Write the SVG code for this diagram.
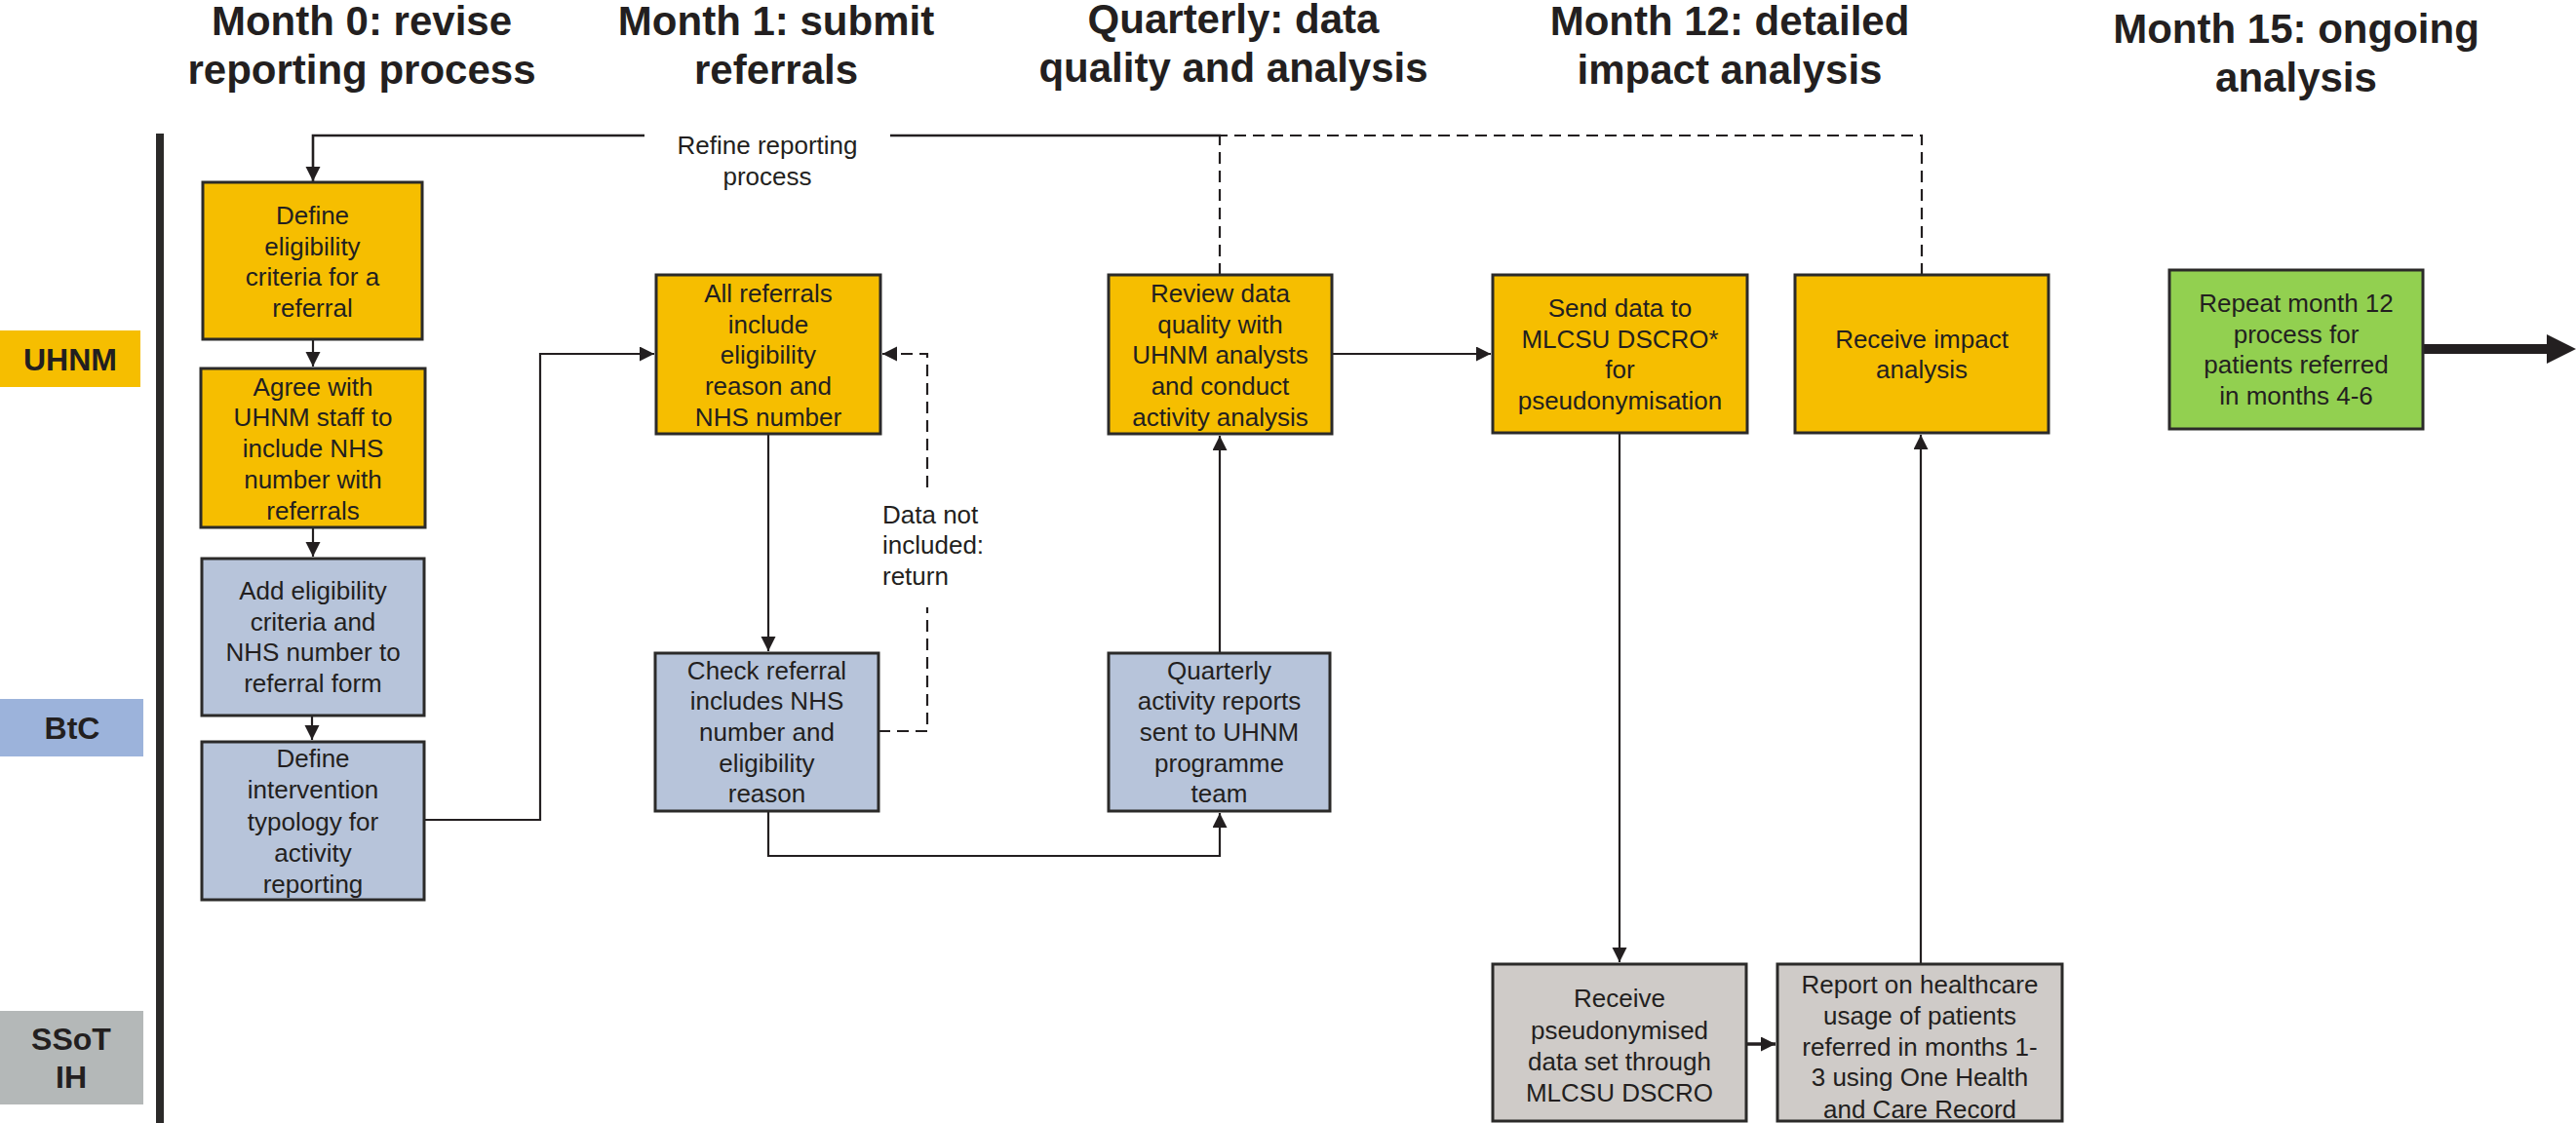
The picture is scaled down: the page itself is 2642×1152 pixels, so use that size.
<svg xmlns="http://www.w3.org/2000/svg" width="2642" height="1152" viewBox="0 0 2642 1152">
<defs>
<style>
.title{font-family:"Liberation Sans",Arial,sans-serif;font-weight:bold;font-size:42px;fill:#231F20;text-anchor:middle}
.lane{font-family:"Liberation Sans",Arial,sans-serif;font-weight:bold;font-size:32px;fill:#231F20;text-anchor:middle}
.t{font-family:"Liberation Sans",Arial,sans-serif;font-size:26px;fill:#231F20;text-anchor:middle}
.lbl{font-family:"Liberation Sans",Arial,sans-serif;font-size:26px;fill:#231F20}
.box{stroke:#2B2A29;stroke-width:3}
.y{fill:#F6BE00}
.b{fill:#B7C4DA}
.g{fill:#CFCBC8}
.gr{fill:#92D050}
.c{fill:none;stroke:#231F20;stroke-width:2.2}
.d{stroke-dasharray:12 7}
</style>
<marker id="ah" markerUnits="userSpaceOnUse" markerWidth="16" markerHeight="16" refX="15" refY="7.5" orient="auto">
<path d="M0,0 L15,7.5 L0,15 z" fill="#231F20"/>
</marker>
</defs>
<rect width="2642" height="1152" fill="#FFFFFF"/>

<g id="titles">
<text class="title" x="371" y="36">Month 0: revise</text>
<text class="title" x="371" y="86">reporting process</text>
<text class="title" x="796" y="36">Month 1: submit</text>
<text class="title" x="796" y="86">referrals</text>
<text class="title" x="1265" y="34">Quarterly: data</text>
<text class="title" x="1265" y="84">quality and analysis</text>
<text class="title" x="1774" y="36">Month 12: detailed</text>
<text class="title" x="1774" y="86">impact analysis</text>
<text class="title" x="2355" y="44">Month 15: ongoing</text>
<text class="title" x="2355" y="94">analysis</text>
</g>

<g id="lanes">
<rect x="0" y="339" width="144" height="58" fill="#F6BE00"/>
<text class="lane" x="72" y="380">UHNM</text>
<rect x="0" y="717" width="147" height="59" fill="#9CB3DB"/>
<text class="lane" x="74" y="758">BtC</text>
<rect x="0" y="1037" width="147" height="96" fill="#B4B8B8"/>
<text class="lane" x="73" y="1077">SSoT</text>
<text class="lane" x="73" y="1116">IH</text>
<rect x="160" y="137" width="8" height="1015" fill="#2B2A29"/>
</g>

<g id="connectors">
<path class="c" d="M321,348 V376" marker-end="url(#ah)"/>
<path class="c" d="M321,541 V571" marker-end="url(#ah)"/>
<path class="c" d="M320,734 V759" marker-end="url(#ah)"/>
<path class="c" d="M435,841 H554 V363 H671" marker-end="url(#ah)"/>
<path class="c" d="M788,445 V668" marker-end="url(#ah)"/>
<path class="c d" d="M901,750 H951 V623"/>
<path class="c d" d="M951,500 V363 H905" marker-end="url(#ah)"/>
<path class="c" d="M788,832 V878 H1251 V834" marker-end="url(#ah)"/>
<path class="c" d="M1251,670 V447" marker-end="url(#ah)"/>
<path class="c" d="M1366,363 H1529" marker-end="url(#ah)"/>
<path class="c" d="M1661,444 V987" marker-end="url(#ah)"/>
<path class="c" style="stroke-width:3.5" d="M1791,1071 H1821" marker-end="url(#ah)"/>
<path class="c" d="M1970,989 V446" marker-end="url(#ah)"/>
<path class="c d" d="M1971,282 V139 H1251"/>
<path class="c d" d="M1251,282 V139"/>
<path class="c" style="stroke-width:2.6" d="M1252,139 H913"/>
<path class="c" style="stroke-width:2.6" d="M661,139 H321 V186" marker-end="url(#ah)"/>
<path class="c" style="stroke-width:10" d="M2485,358 H2615"/>
<polygon points="2612,343 2642,358 2612,373" fill="#231F20"/>
<text class="t" x="787" y="158">Refine reporting</text>
<text class="t" x="787" y="190">process</text>
<text class="lbl" x="905" y="537">Data not</text>
<text class="lbl" x="905" y="568">included:</text>
<text class="lbl" x="905" y="600">return</text>
</g>

<g id="n1">
<rect class="box y" x="208" y="187" width="225" height="161"/>
<text class="t" x="320.5" y="230">Define</text>
<text class="t" x="320.5" y="262">eligibility</text>
<text class="t" x="320.5" y="293">criteria for a</text>
<text class="t" x="320.5" y="325">referral</text>
</g>
<g id="n2">
<rect class="box y" x="206" y="378" width="230" height="163"/>
<text class="t" x="321" y="406">Agree with</text>
<text class="t" x="321" y="437">UHNM staff to</text>
<text class="t" x="321" y="469">include NHS</text>
<text class="t" x="321" y="501">number with</text>
<text class="t" x="321" y="533">referrals</text>
</g>
<g id="n3">
<rect class="box b" x="207" y="573" width="228" height="161"/>
<text class="t" x="321" y="615">Add eligibility</text>
<text class="t" x="321" y="647">criteria and</text>
<text class="t" x="321" y="678">NHS number to</text>
<text class="t" x="321" y="710">referral form</text>
</g>
<g id="n4">
<rect class="box b" x="207" y="761" width="228" height="162"/>
<text class="t" x="321" y="787">Define</text>
<text class="t" x="321" y="819">intervention</text>
<text class="t" x="321" y="852">typology for</text>
<text class="t" x="321" y="884">activity</text>
<text class="t" x="321" y="916">reporting</text>
</g>
<g id="n5">
<rect class="box y" x="673" y="282" width="230" height="163"/>
<text class="t" x="788" y="310">All referrals</text>
<text class="t" x="788" y="342">include</text>
<text class="t" x="788" y="373">eligibility</text>
<text class="t" x="788" y="405">reason and</text>
<text class="t" x="788" y="437">NHS number</text>
</g>
<g id="n6">
<rect class="box b" x="672" y="670" width="229" height="162"/>
<text class="t" x="786.5" y="697">Check referral</text>
<text class="t" x="786.5" y="728">includes NHS</text>
<text class="t" x="786.5" y="760">number and</text>
<text class="t" x="786.5" y="792">eligibility</text>
<text class="t" x="786.5" y="823">reason</text>
</g>
<g id="n7">
<rect class="box y" x="1137" y="282" width="229" height="163"/>
<text class="t" x="1251.5" y="310">Review data</text>
<text class="t" x="1251.5" y="342">quality with</text>
<text class="t" x="1251.5" y="373">UHNM analysts</text>
<text class="t" x="1251.5" y="405">and conduct</text>
<text class="t" x="1251.5" y="437">activity analysis</text>
</g>
<g id="n8">
<rect class="box b" x="1137" y="670" width="227" height="162"/>
<text class="t" x="1250.5" y="697">Quarterly</text>
<text class="t" x="1250.5" y="728">activity reports</text>
<text class="t" x="1250.5" y="760">sent to UHNM</text>
<text class="t" x="1250.5" y="792">programme</text>
<text class="t" x="1250.5" y="823">team</text>
</g>
<g id="n9">
<rect class="box y" x="1531" y="282" width="261" height="162"/>
<text class="t" x="1661.5" y="325">Send data to</text>
<text class="t" x="1661.5" y="357">MLCSU DSCRO*</text>
<text class="t" x="1661.5" y="388">for</text>
<text class="t" x="1661.5" y="420">pseudonymisation</text>
</g>
<g id="n10">
<rect class="box y" x="1841" y="282" width="260" height="162"/>
<text class="t" x="1971" y="357">Receive impact</text>
<text class="t" x="1971" y="388">analysis</text>
</g>
<g id="n11">
<rect class="box gr" x="2225" y="277" width="260" height="163"/>
<text class="t" x="2355" y="320">Repeat month 12</text>
<text class="t" x="2355" y="352">process for</text>
<text class="t" x="2355" y="383">patients referred</text>
<text class="t" x="2355" y="415">in months 4-6</text>
</g>
<g id="n12">
<rect class="box g" x="1531" y="989" width="260" height="161"/>
<text class="t" x="1661" y="1033">Receive</text>
<text class="t" x="1661" y="1066">pseudonymised</text>
<text class="t" x="1661" y="1098">data set through</text>
<text class="t" x="1661" y="1130">MLCSU DSCRO</text>
</g>
<g id="n13">
<rect class="box g" x="1823" y="989" width="292" height="161"/>
<text class="t" x="1969" y="1019">Report on healthcare</text>
<text class="t" x="1969" y="1051">usage of patients</text>
<text class="t" x="1969" y="1083">referred in months 1-</text>
<text class="t" x="1969" y="1114">3 using One Health</text>
<text class="t" x="1969" y="1147">and Care Record</text>
</g>
</svg>
